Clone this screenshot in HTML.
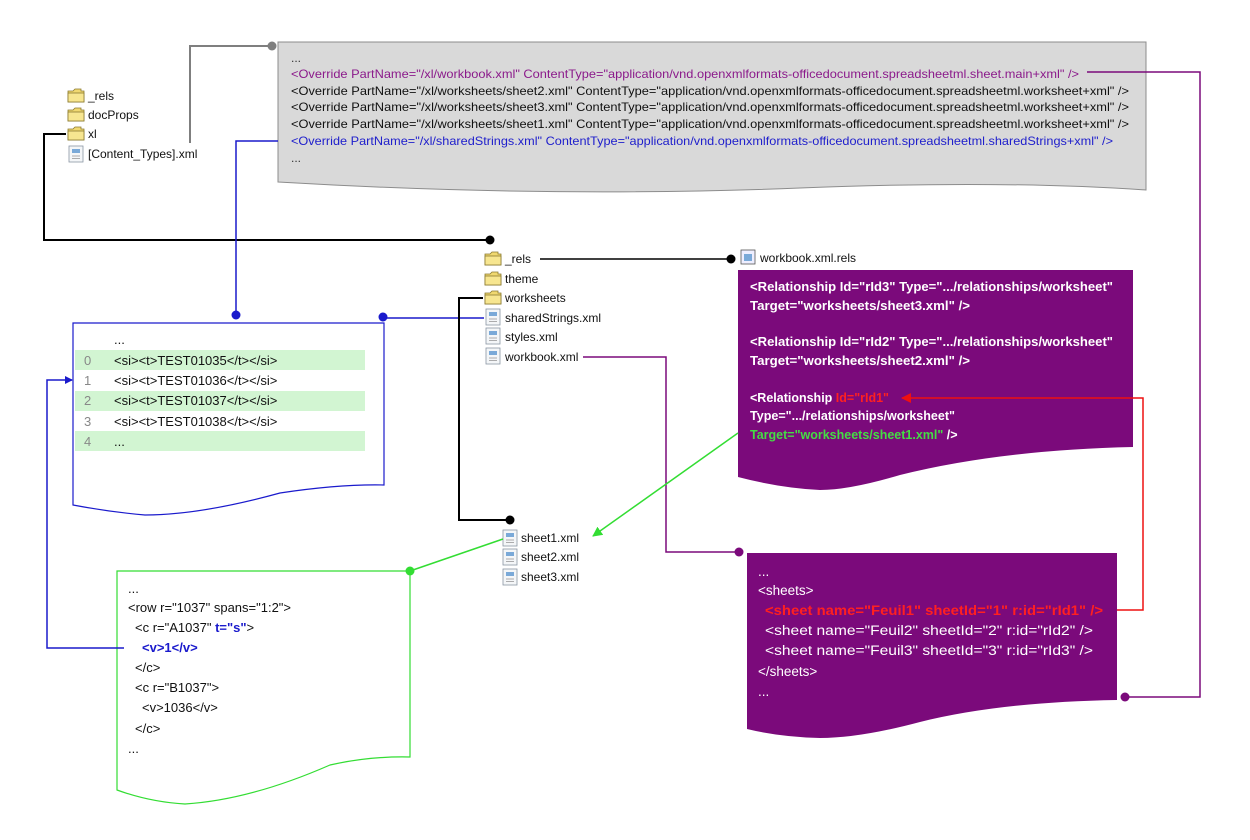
<!DOCTYPE html>
<html><head><meta charset="utf-8"><style>
html,body{margin:0;padding:0;background:#fff;}
svg{display:block;font-family:"Liberation Sans",sans-serif;}
</style></head><body>
<svg width="1250" height="840" viewBox="0 0 1250 840" xmlns="http://www.w3.org/2000/svg">
<defs>
<g id="fold"><path d="M0,3 h5 l2,-2 h6 v2 h3 v11 h-16z" fill="#f0d870" stroke="#8a7a30" stroke-width="0.8"/><rect x="0" y="5" width="16" height="9" fill="#f7e690" stroke="#8a7a30" stroke-width="0.8"/></g>
<g id="file"><rect x="0" y="0" width="14" height="16" fill="#f4f6f8" stroke="#8a96a4" stroke-width="0.8"/><rect x="3" y="3" width="8" height="4" fill="#7aa9d8"/><line x1="3" y1="10" x2="11" y2="10" stroke="#999" stroke-width="0.8"/><line x1="3" y1="12.5" x2="11" y2="12.5" stroke="#999" stroke-width="0.8"/></g>
<marker id="ab" markerWidth="8" markerHeight="8" refX="7" refY="4" orient="auto" markerUnits="userSpaceOnUse"><path d="M0,0 L8,4 L0,8z" fill="#1a1acc"/></marker>
<marker id="ag" markerWidth="10" markerHeight="10" refX="9" refY="5" orient="auto" markerUnits="userSpaceOnUse"><path d="M0,0 L10,5 L0,10z" fill="#33dd33"/></marker>
<marker id="ar" markerWidth="10" markerHeight="10" refX="9" refY="5" orient="auto" markerUnits="userSpaceOnUse"><path d="M0,0 L10,5 L0,10z" fill="#ee1111"/></marker>
</defs>

<path d="M278,42 H1146 V190 Q1000,180 800,188 Q550,198 278,182 Z" fill="#d9d9d9" stroke="#8c8c8c" stroke-width="1"/>
<g font-size="12">
<text x="291" y="62" fill="#333">...</text>
<text x="291" y="78" fill="#8b1a8b" textLength="788" lengthAdjust="spacingAndGlyphs">&lt;Override PartName="/xl/workbook.xml" ContentType="application/vnd.openxmlformats-officedocument.spreadsheetml.sheet.main+xml" /&gt;</text>
<text x="291" y="95" fill="#111" textLength="838" lengthAdjust="spacingAndGlyphs">&lt;Override PartName="/xl/worksheets/sheet2.xml" ContentType="application/vnd.openxmlformats-officedocument.spreadsheetml.worksheet+xml" /&gt;</text>
<text x="291" y="111" fill="#111" textLength="838" lengthAdjust="spacingAndGlyphs">&lt;Override PartName="/xl/worksheets/sheet3.xml" ContentType="application/vnd.openxmlformats-officedocument.spreadsheetml.worksheet+xml" /&gt;</text>
<text x="291" y="128" fill="#111" textLength="838" lengthAdjust="spacingAndGlyphs">&lt;Override PartName="/xl/worksheets/sheet1.xml" ContentType="application/vnd.openxmlformats-officedocument.spreadsheetml.worksheet+xml" /&gt;</text>
<text x="291" y="145" fill="#2020cc" textLength="822" lengthAdjust="spacingAndGlyphs">&lt;Override PartName="/xl/sharedStrings.xml" ContentType="application/vnd.openxmlformats-officedocument.spreadsheetml.sharedStrings+xml" /&gt;</text>
<text x="291" y="162" fill="#333">...</text>
</g>

<g font-size="12" fill="#111">
<use href="#fold" x="68" y="88"/><text x="88" y="100">_rels</text>
<use href="#fold" x="68" y="107"/><text x="88" y="119">docProps</text>
<use href="#fold" x="68" y="126"/><text x="88" y="138">xl</text>
<use href="#file" x="69" y="146"/><text x="88" y="158">[Content_Types].xml</text>
</g>

<polyline points="190,143 190,46 272,46" fill="none" stroke="#7f7f7f" stroke-width="2"/><circle cx="272" cy="46" r="4.5" fill="#7f7f7f"/>
<polyline points="66,134 44,134 44,240 490,240" fill="none" stroke="#000" stroke-width="2"/><circle cx="490" cy="240" r="4.5" fill="#000"/>
<polyline points="278,141 236,141 236,315" fill="none" stroke="#1a1acc" stroke-width="1.5"/><circle cx="236" cy="315" r="4.5" fill="#1a1acc"/>
<polyline points="484,318 383,318" fill="none" stroke="#1a1acc" stroke-width="1.5"/><circle cx="383" cy="317" r="4.5" fill="#1a1acc"/>
<line x1="540" y1="259" x2="731" y2="259" stroke="#000" stroke-width="1.5"/><circle cx="731" cy="259" r="4.5" fill="#000"/>
<polyline points="483,298 459,298 459,520 510,520" fill="none" stroke="#000" stroke-width="2"/><circle cx="510" cy="520" r="4.5" fill="#000"/>
<polyline points="583,357 666,357 666,552 739,552" fill="none" stroke="#7b0a7b" stroke-width="1.5"/><circle cx="739" cy="552" r="4.5" fill="#7b0a7b"/>
<polyline points="1087,72 1200,72 1200,697 1125,697" fill="none" stroke="#7b0a7b" stroke-width="1.5"/><circle cx="1125" cy="697" r="4.5" fill="#7b0a7b"/>

<g font-size="12" fill="#111">
<use href="#fold" x="485" y="251"/><text x="505" y="263">_rels</text>
<use href="#fold" x="485" y="271"/><text x="505" y="283">theme</text>
<use href="#fold" x="485" y="290"/><text x="505" y="302">worksheets</text>
<use href="#file" x="486" y="309"/><text x="505" y="322">sharedStrings.xml</text>
<use href="#file" x="486" y="328"/><text x="505" y="341">styles.xml</text>
<use href="#file" x="486" y="348"/><text x="505" y="361">workbook.xml</text>
<use href="#file" x="503" y="530"/><text x="521" y="542">sheet1.xml</text>
<use href="#file" x="503" y="549"/><text x="521" y="561">sheet2.xml</text>
<use href="#file" x="503" y="569"/><text x="521" y="581">sheet3.xml</text>
<rect x="741" y="250" width="14" height="14" fill="#eef" stroke="#555" stroke-width="0.8"/><rect x="744" y="254" width="8" height="7" fill="#7aa9d8"/>
<text x="760" y="262">workbook.xml.rels</text>
</g>

<path d="M73,323 H384 V485 Q340,484 280,493 Q200,515 145,515 Q110,512 73,505 Z" fill="#fff" stroke="#1a1acc" stroke-width="1.2"/>
<rect x="75" y="350" width="290" height="20" fill="#d2f5d2"/>
<rect x="75" y="391" width="290" height="20" fill="#d2f5d2"/>
<rect x="75" y="431" width="290" height="20" fill="#d2f5d2"/>
<g font-size="13" fill="#111">
<text x="114" y="344">...</text>
<text x="84" y="365" fill="#888">0</text><text x="114" y="365">&lt;si&gt;&lt;t&gt;TEST01035&lt;/t&gt;&lt;/si&gt;</text>
<text x="84" y="385" fill="#888">1</text><text x="114" y="385">&lt;si&gt;&lt;t&gt;TEST01036&lt;/t&gt;&lt;/si&gt;</text>
<text x="84" y="405" fill="#888">2</text><text x="114" y="405">&lt;si&gt;&lt;t&gt;TEST01037&lt;/t&gt;&lt;/si&gt;</text>
<text x="84" y="426" fill="#888">3</text><text x="114" y="426">&lt;si&gt;&lt;t&gt;TEST01038&lt;/t&gt;&lt;/si&gt;</text>
<text x="84" y="446" fill="#888">4</text><text x="114" y="446">...</text>
</g>

<path d="M117,571 H410 V757 Q370,756 330,765 Q250,800 185,804 Q150,802 117,790 Z" fill="#fff" stroke="#33dd33" stroke-width="1.2"/>
<g font-size="13" fill="#111">
<text x="128" y="593">...</text>
<text x="128" y="612">&lt;row r="1037" spans="1:2"&gt;</text>
<text x="135" y="632">&lt;c r="A1037" <tspan fill="#1a1acc" font-weight="bold">t="s"</tspan>&gt;</text>
<text x="142" y="652" fill="#1a1acc" font-weight="bold">&lt;v&gt;1&lt;/v&gt;</text>
<text x="135" y="672">&lt;/c&gt;</text>
<text x="135" y="692">&lt;c r="B1037"&gt;</text>
<text x="142" y="712">&lt;v&gt;1036&lt;/v&gt;</text>
<text x="135" y="733">&lt;/c&gt;</text>
<text x="128" y="753">...</text>
</g>
<line x1="503" y1="539" x2="410" y2="571" stroke="#33dd33" stroke-width="1.5"/><circle cx="410" cy="571" r="4.5" fill="#33dd33"/>
<polyline points="124,648 47,648 47,380 72,380" fill="none" stroke="#1a1acc" stroke-width="1.5" marker-end="url(#ab)"/>

<path d="M738,270 H1133 V447 Q1000,450 900,475 Q850,490 820,490 Q780,488 738,477 Z" fill="#7b0a7b"/>
<g font-size="12.5" fill="#fff" font-weight="bold">
<text x="750" y="291" textLength="363" lengthAdjust="spacingAndGlyphs">&lt;Relationship Id="rId3" Type=".../relationships/worksheet"</text>
<text x="750" y="310" textLength="220" lengthAdjust="spacingAndGlyphs">Target="worksheets/sheet3.xml" /&gt;</text>
<text x="750" y="346" textLength="363" lengthAdjust="spacingAndGlyphs">&lt;Relationship Id="rId2" Type=".../relationships/worksheet"</text>
<text x="750" y="365" textLength="220" lengthAdjust="spacingAndGlyphs">Target="worksheets/sheet2.xml" /&gt;</text>
<text x="750" y="402">&lt;Relationship <tspan fill="#ff2020">Id="rId1"</tspan></text>
<text x="750" y="420" textLength="205" lengthAdjust="spacingAndGlyphs">Type=".../relationships/worksheet"</text>
<text x="750" y="439"><tspan fill="#44dd44">Target="worksheets/sheet1.xml"</tspan> /&gt;</text>
</g>
<line x1="738" y1="433" x2="593" y2="536" stroke="#33dd33" stroke-width="1.5" marker-end="url(#ag)"/>

<path d="M747,553 H1117 V700 Q1000,702 920,722 Q860,738 820,738 Q780,737 747,729 Z" fill="#7b0a7b"/>
<g font-size="13.5" fill="#fff">
<text x="758" y="576">...</text>
<text x="758" y="595">&lt;sheets&gt;</text>
<text x="765" y="615" fill="#ff2020" font-weight="bold" textLength="338" lengthAdjust="spacingAndGlyphs">&lt;sheet name="Feuil1" sheetId="1" r:id="rId1" /&gt;</text>
<text x="765" y="635" textLength="328" lengthAdjust="spacingAndGlyphs">&lt;sheet name="Feuil2" sheetId="2" r:id="rId2" /&gt;</text>
<text x="765" y="655" textLength="328" lengthAdjust="spacingAndGlyphs">&lt;sheet name="Feuil3" sheetId="3" r:id="rId3" /&gt;</text>
<text x="758" y="676">&lt;/sheets&gt;</text>
<text x="758" y="696">...</text>
</g>
<polyline points="1117,610 1143,610 1143,398 902,398" fill="none" stroke="#ee1111" stroke-width="1.5" marker-end="url(#ar)"/>
</svg>
</body></html>
